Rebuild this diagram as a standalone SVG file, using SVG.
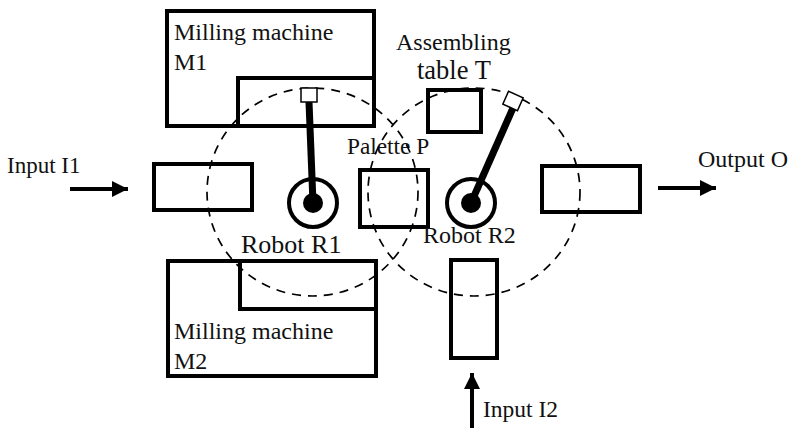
<svg xmlns="http://www.w3.org/2000/svg" width="790" height="429" viewBox="0 0 790 429">
<style>
.b{fill:none;stroke:#000;stroke-width:4}
.d{fill:none;stroke:#000;stroke-width:1.7;stroke-dasharray:9 7}
.g{fill:#fff;stroke:#000;stroke-width:1.5}
.a{stroke:#000;stroke-width:7;fill:none}
.f{stroke:#000;stroke-width:4;fill:none;marker-end:url(#h)}
.t{font-family:"Liberation Serif",serif;font-size:24px;fill:#111}
</style>
<defs><marker id="h" markerUnits="userSpaceOnUse" markerWidth="17" markerHeight="18" refX="16" refY="9" orient="auto"><path d="M0 1L16 9L0 17Z" fill="#000"/></marker></defs>
<rect width="790" height="429" fill="#fff"/>
<g id="m1"><rect class="b" x="167" y="11" width="207" height="115"/><rect class="b" x="238" y="78" width="136" height="48"/><text class="t" x="174" y="40">Milling machine</text><text class="t" x="174" y="70">M1</text></g>
<g id="m2"><rect class="b" x="168" y="261" width="208" height="115"/><rect class="b" x="240" y="261" width="136" height="48"/><text class="t" x="174" y="339">Milling machine</text><text class="t" x="174" y="369">M2</text></g>
<g id="input1-station"><rect class="b" x="154" y="164" width="98" height="46"/></g>
<g id="palette"><rect class="b" x="360" y="170" width="68" height="57"/><text class="t" style="font-size:23.300px" x="347" y="154">Palette P</text></g>
<g id="table"><rect class="b" x="428" y="90" width="53" height="42"/><text class="t" x="396" y="50">Assembling</text><text class="t" style="font-size:26.500px" x="417" y="79">table T</text></g>
<g id="output-station"><rect class="b" x="542" y="166" width="98" height="46"/></g>
<g id="input2-station"><rect class="b" x="451" y="260" width="46" height="98"/></g>
<g id="robot1"><ellipse class="d" cx="312.500" cy="192" rx="105.500" ry="104"/><line class="a" x1="313" y1="203" x2="309" y2="102"/><rect class="g" x="301" y="88" width="16" height="14"/><circle cx="313" cy="203" r="24" fill="none" stroke="#000" stroke-width="4"/><circle cx="313" cy="203" r="10"/><text class="t" style="font-size:26px" x="241" y="253">Robot R1</text></g>
<g id="robot2"><ellipse class="d" cx="474" cy="192" rx="106" ry="104"/><line class="a" x1="471" y1="203" x2="513" y2="108"/><rect class="g" x="505" y="94" width="16" height="14" transform="rotate(24 513 101)"/><circle cx="471" cy="203" r="24" fill="none" stroke="#000" stroke-width="4"/><circle cx="471" cy="203" r="10"/><text class="t" x="423" y="243">Robot R2</text></g>
<g id="connectors"><line class="f" x1="70" y1="189" x2="128" y2="189"/><line class="f" x1="658" y1="188" x2="716" y2="188"/><line class="f" x1="472" y1="428" x2="472" y2="373"/></g>
<text class="t" style="font-size:23px" x="7" y="173">Input I1</text><text class="t" x="698" y="167">Output O</text><text class="t" style="font-size:23.500px" x="483" y="417">Input I2</text>
</svg>
